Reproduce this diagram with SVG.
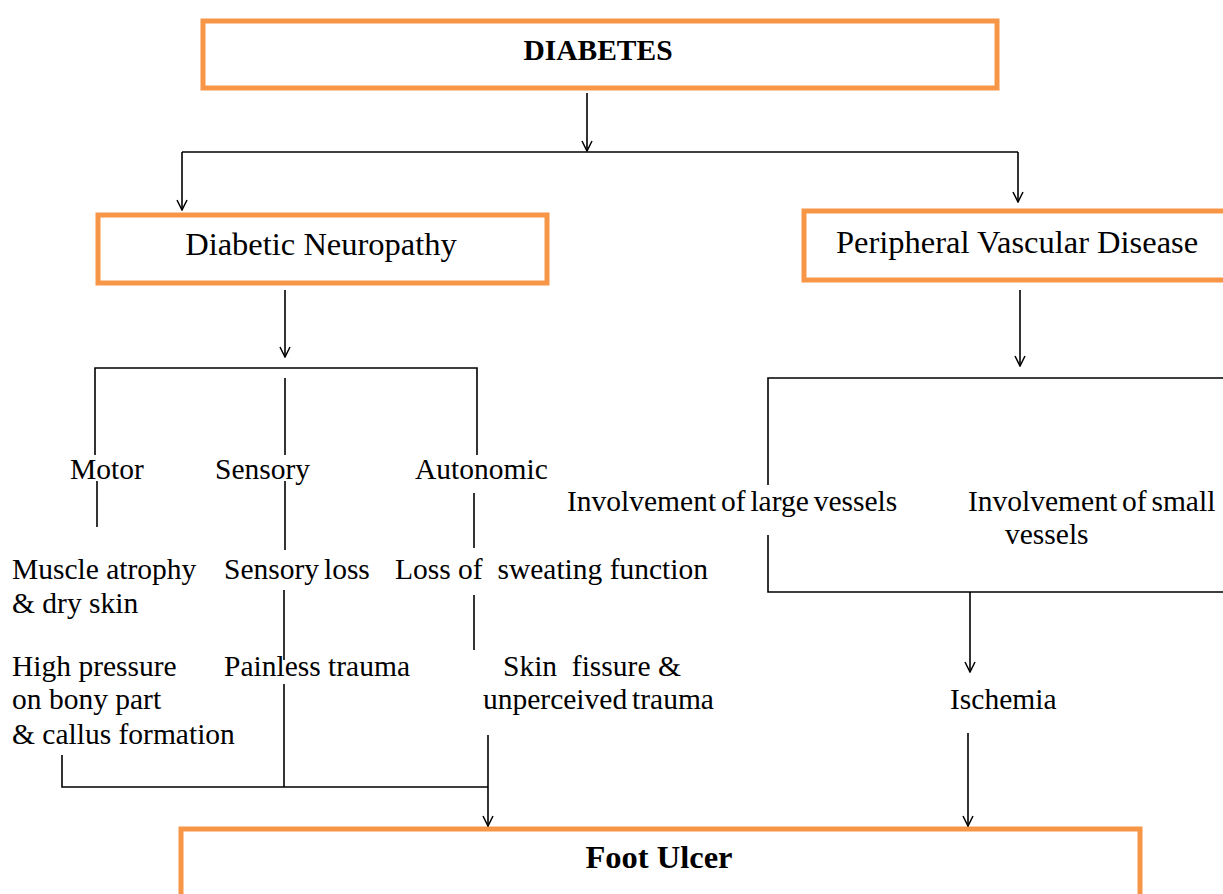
<svg xmlns="http://www.w3.org/2000/svg" width="1223" height="894" viewBox="0 0 1223 894">
<style>
.box{fill:#fff;stroke:#F79646;stroke-width:5}
.ln{stroke:#000;stroke-width:1.6;fill:none}
text{font-family:"Liberation Serif","Times New Roman",serif;font-size:29.5px;fill:#000;white-space:pre}
.b{font-weight:bold}
.big{font-size:32.5px}
.tight{word-spacing:-2.5px}
</style>
<defs>
<marker id="dn" viewBox="0 0 12 14" refX="6" refY="13" markerWidth="12" markerHeight="14" markerUnits="userSpaceOnUse" orient="0">
<polyline points="1,3 6,13 11,3" fill="none" stroke="#000" stroke-width="1.5"/>
</marker>
</defs>
<rect width="1223" height="894" fill="#fff"/>
<g id="diabetes"><rect class="box" x="203" y="21" width="794" height="67"/><text class="b" x="598" y="60" text-anchor="middle">DIABETES</text></g>
<g id="neuropathy"><rect class="box" x="98" y="215" width="449" height="68"/><text class="big" x="321" y="255" text-anchor="middle">Diabetic Neuropathy</text></g>
<g id="pvd"><rect class="box" x="804" y="211" width="430" height="69"/><text class="big" x="836" y="253">Peripheral Vascular Disease</text></g>
<g id="foot-ulcer"><rect class="box" x="181" y="829" width="959" height="80"/><text class="b big" x="659" y="868" text-anchor="middle">Foot Ulcer</text></g>
<g id="motor"><text x="70" y="479">Motor</text></g>
<g id="sensory"><text x="215" y="479">Sensory</text></g>
<g id="autonomic"><text x="415" y="479">Autonomic</text></g>
<g id="muscle"><text x="12" y="579">Muscle atrophy</text><text x="12" y="613">&amp; dry skin</text></g>
<g id="sensory-loss"><text class="tight" x="224" y="579">Sensory loss</text></g>
<g id="sweating"><text x="395" y="579">Loss of  sweating function</text></g>
<g id="pressure"><text x="12" y="676">High pressure</text><text x="12" y="709">on bony part</text><text x="12" y="744">&amp; callus formation</text></g>
<g id="painless"><text x="224" y="676">Painless trauma</text></g>
<g id="fissure"><text x="503" y="676">Skin  fissure &amp;</text><text class="tight" x="483" y="709">unperceived trauma</text></g>
<g id="large"><text class="tight" x="567" y="511">Involvement of large vessels</text></g>
<g id="small"><text class="tight" x="968" y="511">Involvement of small</text><text x="1005" y="544">vessels</text></g>
<g id="ischemia"><text x="950" y="709">Ischemia</text></g>
<g id="connectors" class="ln">
<line x1="587" y1="93" x2="587" y2="151" marker-end="url(#dn)"/>
<polyline points="182,152 1018,152"/>
<line x1="182" y1="152" x2="182" y2="210" marker-end="url(#dn)"/>
<line x1="1018" y1="152" x2="1018" y2="202" marker-end="url(#dn)"/>
<line x1="285" y1="290" x2="285" y2="357" marker-end="url(#dn)"/>
<polyline points="95,455 95,368 477,368 477,455"/>
<line x1="285" y1="378" x2="285" y2="455"/>
<line x1="97" y1="481" x2="97" y2="527"/>
<line x1="285" y1="481" x2="285" y2="550"/>
<line x1="474" y1="493" x2="474" y2="548"/>
<line x1="284" y1="590" x2="284" y2="660"/>
<line x1="284" y1="684" x2="284" y2="787"/>
<line x1="474" y1="595" x2="474" y2="650"/>
<polyline points="62,755 62,787 488,787"/>
<line x1="488" y1="735" x2="488" y2="826" marker-end="url(#dn)"/>
<line x1="1020" y1="290" x2="1020" y2="366" marker-end="url(#dn)"/>
<polyline points="768,485 768,378 1223,378"/>
<polyline points="768,535 768,592 1223,592"/>
<line x1="970" y1="592" x2="970" y2="672" marker-end="url(#dn)"/>
<line x1="968" y1="733" x2="968" y2="826" marker-end="url(#dn)"/>
</g>
</svg>
